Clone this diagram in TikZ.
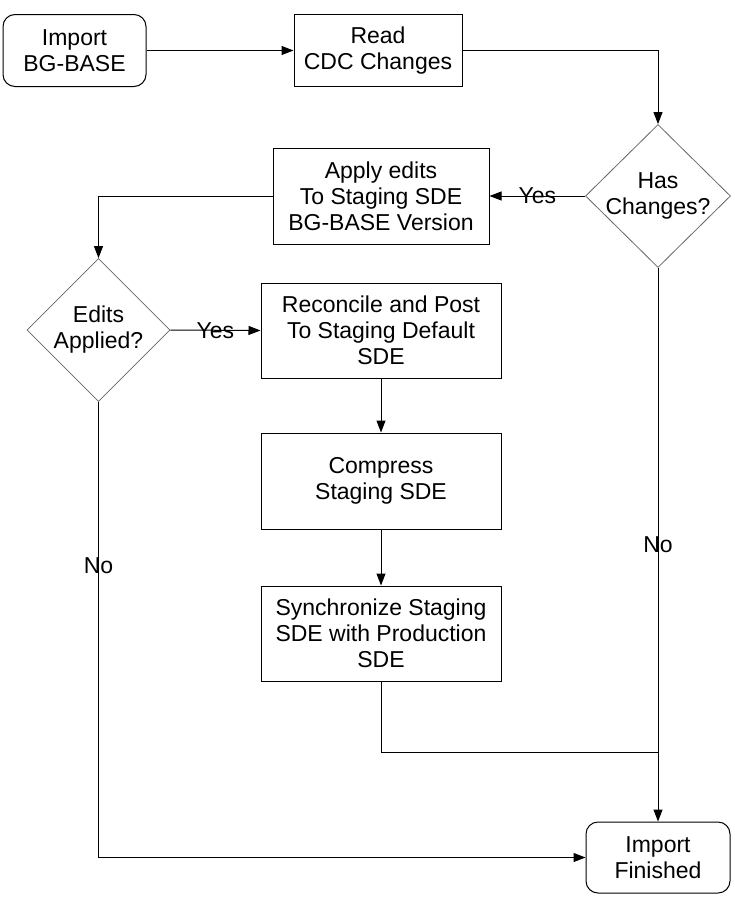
\documentclass[tikz,border=0pt]{standalone}
\usepackage{fontspec}
\setmainfont{Liberation Sans}
\usetikzlibrary{shapes.geometric,arrows.meta}

\begin{document}
\begin{tikzpicture}[x=1pt,y=-1pt,>={Triangle[length=12pt,width=9pt]}]
    \tikzstyle{every node}=[font=\fontsize{23}{26}\selectfont]
    \tikzstyle{R}=[rectangle,rounded corners=12pt,draw,line width=1pt,align=center,inner sep=0pt]
    \tikzstyle{B}=[rectangle,draw,line width=1pt,align=center,inner sep=0pt]
    \tikzstyle{Q}=[diamond,draw=black!60,line width=0.8pt,inner sep=0pt,minimum width=145pt,minimum height=143pt]

   \useasboundingbox (0,0) rectangle (735,902);

   \node [R,minimum width=143pt,minimum height=72pt] (start) at (74.5,50.5) {Import\\BG-BASE};
   \node [B,minimum width=168pt,minimum height=72pt] (read) at (378,50.5) {Read\\CDC Changes};
   \node [Q,label={[align=center]center:Has\\Changes?}] (has) at (658,196) {};
   \node [B,minimum width=216pt,minimum height=96pt] (apply) at (381,196) {Apply edits\\To Staging SDE\\BG-BASE Version};
   \node [Q,minimum width=143pt,label={[align=center]center:Edits\\Applied?}] (edits) at (98.5,330) {};
   \node [B,minimum width=240pt,minimum height=95pt] (rec) at (381,330.5) {Reconcile and Post\\To Staging Default\\SDE};
   \node [B,minimum width=240pt,minimum height=96pt] (comp) at (381,481) {Compress\\Staging SDE};
   \node [B,minimum width=240pt,minimum height=95pt] (sync) at (381,633.5) {Synchronize Staging\\SDE with Production\\SDE};
   \node [R,minimum width=144pt,minimum height=71pt] (fin) at (658,857.5) {Import\\Finished};
   \coordinate (join) at (658,752);

   \draw [line width=1pt,->] (start.east) -- (read.west);
   \draw [line width=1pt,->] (read.east) -| (has.north);
   \draw [line width=1pt,->] (has.west) -- node {Yes} (apply.east);
   \draw [line width=1pt,->] (apply.west) -| (edits.north);
   \draw [line width=1pt,->] (edits.east) -- node {Yes} (rec.west);
   \draw [line width=1pt,->] (rec) -- (comp);
   \draw [line width=1pt,->] (comp) -- (sync);
   \draw [line width=1pt] (sync.south) |- (join);
   \draw [line width=1pt,->] (has.south) -- node {No} (fin.north);
   \draw [line width=1pt,->] (edits.south) |- node [pos=0.18] {No} (fin.west);
\end{tikzpicture}
\end{document}
